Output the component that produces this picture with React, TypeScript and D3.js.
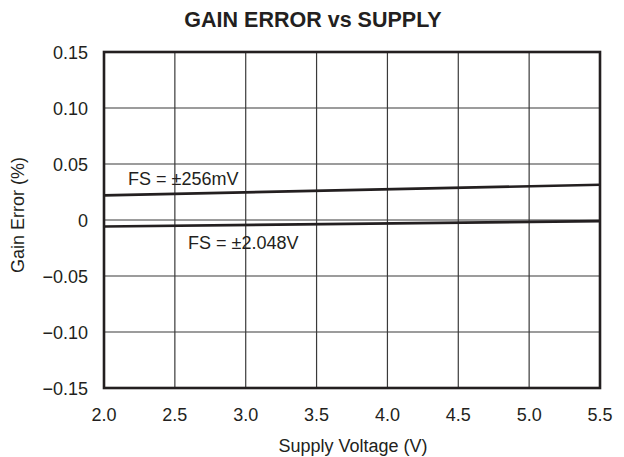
import React from "react";
import * as d3 from "d3";

const xTicks = [2.0, 2.5, 3.0, 3.5, 4.0, 4.5, 5.0, 5.5];
const yTicks = [0.15, 0.1, 0.05, 0, -0.05, -0.1, -0.15];
const yTickLabels = ["0.15", "0.10", "0.05", "0", "\u22120.05", "\u22120.10", "\u22120.15"];

const supplyV = [2.0, 5.5];
const fs256 = [0.022, 0.0315];
const fs2048 = [-0.0058, -0.001];

const W = 624;
const H = 457;
const M = { left: 104, right: 600, top: 52, bottom: 388 };
const INK = "#231f20";
const FONT = "'Liberation Sans', Arial, Helvetica, sans-serif";

export default function App() {
  const x = d3.scaleLinear().domain([2.0, 5.5]).range([M.left, M.right]);
  const y = d3.scaleLinear().domain([-0.15, 0.15]).range([M.bottom, M.top]);
  const line = d3
    .line<number>()
    .x((_, i) => x(supplyV[i]))
    .y((d) => y(d));

  return (
    <svg
      width={W}
      height={H}
      style={{ position: "absolute", left: 0, top: 0, background: "#fff" }}
      fontFamily={FONT}
    >
      <text x={313} y={27} textAnchor="middle" fontSize={21.5} fontWeight="bold" fill={INK}>
        GAIN ERROR vs SUPPLY
      </text>
      {xTicks.map((t) => (
        <line key={"gx" + t} x1={x(t)} x2={x(t)} y1={M.top} y2={M.bottom} stroke="#3a3a3a" strokeWidth={1.2} />
      ))}
      {yTicks.map((t) => (
        <line key={"gy" + t} x1={M.left} x2={M.right} y1={y(t)} y2={y(t)} stroke="#3a3a3a" strokeWidth={1.2} />
      ))}
      <path d={line(fs256) || ""} fill="none" stroke={INK} strokeWidth={2.6} />
      <path d={line(fs2048) || ""} fill="none" stroke={INK} strokeWidth={2.6} />
      <rect
        x={M.left}
        y={M.top}
        width={M.right - M.left}
        height={M.bottom - M.top}
        fill="none"
        stroke={INK}
        strokeWidth={2.6}
      />
      {xTicks.map((t) => (
        <text key={"xt" + t} x={x(t)} y={421} textAnchor="middle" fontSize={18} fill={INK}>
          {t.toFixed(1)}
        </text>
      ))}
      {yTicks.map((t, i) => (
        <text key={"yt" + t} x={88} y={y(t) + 6.5} textAnchor="end" fontSize={18} fill={INK}>
          {yTickLabels[i]}
        </text>
      ))}
      <text x={353} y={452} textAnchor="middle" fontSize={18} fill={INK}>
        Supply Voltage (V)
      </text>
      <text
        transform={`translate(24, 215) rotate(-90)`}
        textAnchor="middle"
        fontSize={18}
        fill={INK}
      >
        Gain Error (%)
      </text>
      <text x={128} y={185} fontSize={18} fill={INK}>
        FS = ±256mV
      </text>
      <text x={188} y={249} fontSize={18} fill={INK}>
        FS = ±2.048V
      </text>
    </svg>
  );
}
